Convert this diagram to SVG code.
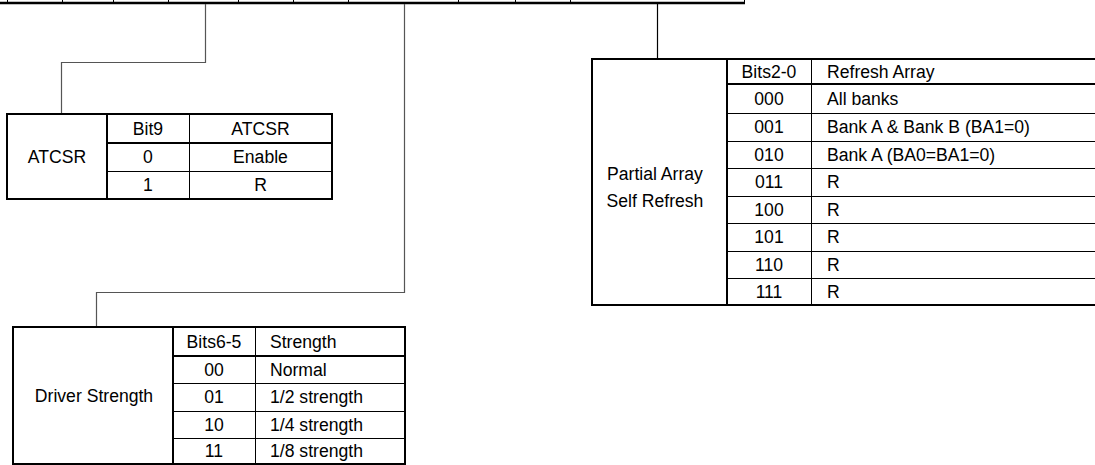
<svg xmlns="http://www.w3.org/2000/svg" width="1095" height="465" viewBox="0 0 1095 465">
<style>
text{font-family:"Liberation Sans",Arial,sans-serif;font-size:17.6px;fill:#000}
.c{text-anchor:middle}
.outer{fill:none;stroke:#000;stroke-width:2}
.thick{stroke:#000;stroke-width:2}
.thin{stroke:#000;stroke-width:1}
.conn{fill:none;stroke:#555;stroke-width:1.2}
</style>
<rect width="1095" height="465" fill="#fff"/>
<g id="register">
<line x1="0" y1="3" x2="745" y2="3" stroke="#000" stroke-width="2.5"/>
<path d="M7.5,0V3M62.5,0V3M113.5,0V3M168.5,0V3M238.5,0V3M293.5,0V3M348.5,0V3M458.5,0V3M515.5,0V3M570.5,0V3M744.5,0V3" stroke="#000" stroke-width="1"/>
</g>
<g id="connectors">
<polyline class="conn" points="205.5,4 205.5,62.5 61.5,62.5 61.5,114"/>
<polyline class="conn" points="404.5,4 404.5,292.5 96.5,292.5 96.5,327"/>
<polyline class="conn" points="657.5,4 657.5,59" style="stroke:#000"/>
</g>
<g id="atcsr">
<rect class="outer" x="7" y="114" width="325" height="85"/>
<line class="thick" x1="107" y1="114" x2="107" y2="199"/>
<line class="thin" x1="189.5" y1="114" x2="189.5" y2="199"/>
<line class="thick" x1="107" y1="143" x2="332" y2="143"/>
<line class="thin" x1="107" y1="171.5" x2="332" y2="171.5"/>
<text class="c" x="57" y="163">ATCSR</text>
<text class="c" x="148" y="135">Bit9</text>
<text class="c" x="260.5" y="135">ATCSR</text>
<text class="c" x="148" y="163">0</text>
<text class="c" x="260.5" y="163">Enable</text>
<text class="c" x="148" y="191">1</text>
<text class="c" x="260.5" y="191">R</text>
</g>
<g id="driver-strength">
<rect class="outer" x="13" y="327" width="392" height="137"/>
<line class="thick" x1="173" y1="327" x2="173" y2="464"/>
<line class="thin" x1="255.5" y1="327" x2="255.5" y2="464"/>
<line class="thick" x1="173" y1="356" x2="405" y2="356"/>
<line class="thin" x1="173" y1="383.5" x2="405" y2="383.5"/>
<line class="thin" x1="173" y1="411.5" x2="405" y2="411.5"/>
<line class="thin" x1="173" y1="438.5" x2="405" y2="438.5"/>
<text class="c" x="94" y="402">Driver Strength</text>
<text class="c" x="214" y="348">Bits6-5</text>
<text x="270" y="348">Strength</text>
<text class="c" x="214" y="376">00</text>
<text x="270" y="376">Normal</text>
<text class="c" x="214" y="403">01</text>
<text x="270" y="403">1/2 strength</text>
<text class="c" x="214" y="431">10</text>
<text x="270" y="431">1/4 strength</text>
<text class="c" x="214" y="457">11</text>
<text x="270" y="457">1/8 strength</text>
</g>
<g id="pasr">
<rect class="outer" x="592" y="59" width="520" height="246"/>
<line class="thick" x1="727" y1="59" x2="727" y2="305"/>
<line class="thin" x1="811.5" y1="59" x2="811.5" y2="305"/>
<line class="thick" x1="727" y1="84" x2="1110" y2="84"/>
<line class="thin" x1="727" y1="113.5" x2="1110" y2="113.5"/>
<line class="thin" x1="727" y1="141.5" x2="1110" y2="141.5"/>
<line class="thin" x1="727" y1="168.5" x2="1110" y2="168.5"/>
<line class="thin" x1="727" y1="196.5" x2="1110" y2="196.5"/>
<line class="thin" x1="727" y1="223.5" x2="1110" y2="223.5"/>
<line class="thin" x1="727" y1="251.5" x2="1110" y2="251.5"/>
<line class="thin" x1="727" y1="278.5" x2="1110" y2="278.5"/>
<text class="c" x="655" y="180">Partial Array</text>
<text class="c" x="655" y="207">Self Refresh</text>
<text class="c" x="769" y="78">Bits2-0</text>
<text x="827" y="78">Refresh Array</text>
<text class="c" x="769" y="105">000</text>
<text x="827" y="105">All banks</text>
<text class="c" x="769" y="133">001</text>
<text x="827" y="133">Bank A &amp; Bank B (BA1=0)</text>
<text class="c" x="769" y="161">010</text>
<text x="827" y="161">Bank A (BA0=BA1=0)</text>
<text class="c" x="769" y="188">011</text>
<text x="827" y="188">R</text>
<text class="c" x="769" y="216">100</text>
<text x="827" y="216">R</text>
<text class="c" x="769" y="243">101</text>
<text x="827" y="243">R</text>
<text class="c" x="769" y="271">110</text>
<text x="827" y="271">R</text>
<text class="c" x="769" y="298">111</text>
<text x="827" y="298">R</text>
</g>
</svg>
